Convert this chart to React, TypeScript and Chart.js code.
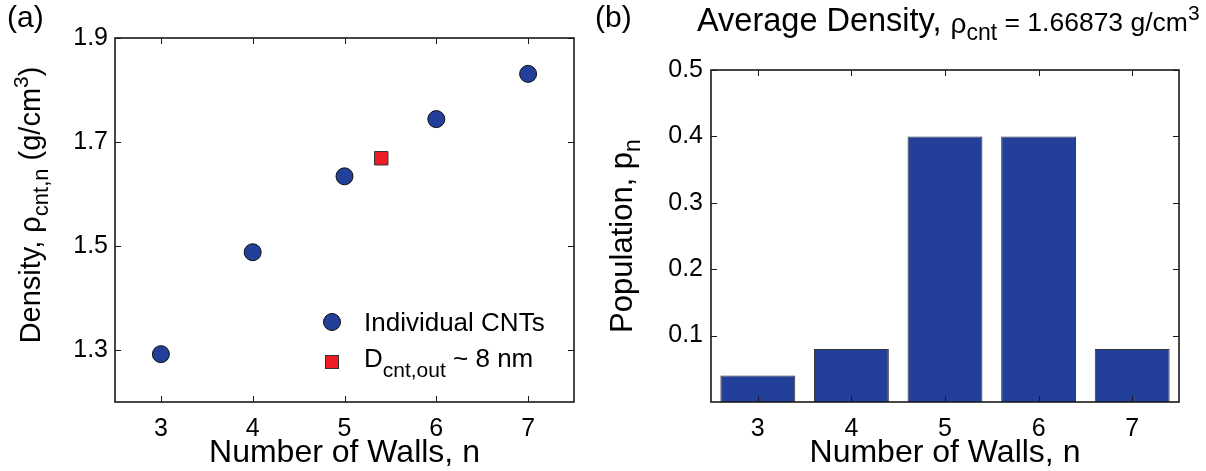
import React, { useEffect, useRef } from "react";
import { Chart, registerables } from "chart.js";

Chart.register(...registerables);

// ---------- data ----------
const WALLS = [3, 4, 5, 6, 7];
const DENSITY = [1.292, 1.488, 1.634, 1.744, 1.831];
const BUNDLE_WALLS = [5.4];
const BUNDLE_DENSITY = [1.6687];
const POPULATION = [0.04, 0.08, 0.4, 0.4, 0.08];
const CATEGORY_LABELS = ["3", "4", "5", "6", "7"];
const LEFT_X_TICKS = [3, 4, 5, 6, 7];
const LEFT_Y_TICKS = [1.3, 1.5, 1.7, 1.9];
const RIGHT_Y_TICKS = [0.1, 0.2, 0.3, 0.4, 0.5];

const LEGEND_LABEL_1 = "Individual CNTs";
const LEGEND_LABEL_2 = ["D", "cnt,out", " ~ 8 nm"];

// ---------- style ----------
const FONT = "'Liberation Sans', Arial, Helvetica, sans-serif";
const BLUE = "#22409a";
const RED = "#ee1c25";
const TICK_FONT = { family: FONT, size: 25 };

type Run = { t: string; size: number; dy?: number };

function runsWidth(ctx: CanvasRenderingContext2D, runs: Run[]) {
  let w = 0;
  for (const r of runs) {
    ctx.font = `${r.size}px ${FONT}`;
    w += ctx.measureText(r.t).width;
  }
  return w;
}

function drawRuns(
  ctx: CanvasRenderingContext2D,
  runs: Run[],
  x: number,
  y: number,
  align: "left" | "center",
  rotate = false
) {
  ctx.save();
  ctx.translate(x, y);
  if (rotate) ctx.rotate(-Math.PI / 2);
  let cx = align === "center" ? -runsWidth(ctx, runs) / 2 : 0;
  ctx.textAlign = "left";
  ctx.textBaseline = "alphabetic";
  ctx.fillStyle = "#000";
  for (const r of runs) {
    ctx.font = `${r.size}px ${FONT}`;
    ctx.fillText(r.t, cx, r.dy || 0);
    cx += ctx.measureText(r.t).width;
  }
  ctx.restore();
}

// box frame with inward ticks on all four sides
const framePlugin = {
  id: "frame",
  afterDatasetsDraw(chart: any) {
    const { ctx, chartArea: a, scales } = chart;
    const L = 6;
    ctx.save();
    ctx.strokeStyle = "#1a1a1a";
    ctx.lineWidth = 1;
    const xs = scales.x;
    xs.ticks.forEach((_t: any, i: number) => {
      const p = Math.round(xs.getPixelForTick(i)) + 0.5;
      ctx.beginPath();
      ctx.moveTo(p, a.bottom);
      ctx.lineTo(p, a.bottom - L);
      ctx.moveTo(p, a.top);
      ctx.lineTo(p, a.top + L);
      ctx.stroke();
    });
    const ys = scales.y;
    ys.ticks.forEach((_t: any, i: number) => {
      const p = Math.round(ys.getPixelForTick(i)) + 0.5;
      ctx.beginPath();
      ctx.moveTo(a.left, p);
      ctx.lineTo(a.left + L, p);
      ctx.moveTo(a.right, p);
      ctx.lineTo(a.right - L, p);
      ctx.stroke();
    });
    ctx.lineWidth = 1.6;
    ctx.strokeRect(a.left, a.top, a.right - a.left, a.bottom - a.top);
    ctx.restore();
  },
};

const leftTextPlugin = {
  id: "leftText",
  afterDraw(chart: any) {
    const { ctx, chartArea: a } = chart;
    const cx = (a.left + a.right) / 2;
    const cy = (a.top + a.bottom) / 2;
    drawRuns(ctx, [{ t: "(a)", size: 30 }], 7, 27, "left");
    drawRuns(ctx, [{ t: "Number of Walls, n", size: 32 }], cx, 462, "center");
    drawRuns(
      ctx,
      [
        { t: "Density, ", size: 29 },
        { t: "ρ", size: 29 },
        { t: "cnt,n", size: 22, dy: 8 },
        { t: " (g/cm", size: 29 },
        { t: "3", size: 21, dy: -12 },
        { t: ")", size: 29 },
      ],
      40,
      cy - 15,
      "center",
      true
    );
    // legend
    ctx.save();
    ctx.fillStyle = BLUE;
    ctx.strokeStyle = "#111";
    ctx.lineWidth = 1;
    ctx.beginPath();
    ctx.arc(332, 322, 8.5, 0, Math.PI * 2);
    ctx.fill();
    ctx.stroke();
    ctx.fillStyle = RED;
    ctx.strokeStyle = "#333";
    ctx.fillRect(325, 355, 14, 14);
    ctx.strokeRect(325.5, 355.5, 13, 13);
    ctx.restore();
    drawRuns(ctx, [{ t: LEGEND_LABEL_1, size: 26 }], 364, 331, "left");
    drawRuns(
      ctx,
      [
        { t: LEGEND_LABEL_2[0], size: 26 },
        { t: LEGEND_LABEL_2[1], size: 21, dy: 10 },
        { t: LEGEND_LABEL_2[2], size: 26 },
      ],
      364,
      367,
      "left"
    );
  },
};

const rightTextPlugin = {
  id: "rightText",
  afterDraw(chart: any) {
    const { ctx, chartArea: a } = chart;
    const cx = (a.left + a.right) / 2;
    const cy = (a.top + a.bottom) / 2;
    drawRuns(ctx, [{ t: "(b)", size: 30 }], 5, 27, "left");
    drawRuns(
      ctx,
      [
        { t: "Average Density, ", size: 32.5 },
        { t: "ρ", size: 28, dy: 2 },
        { t: "cnt", size: 23, dy: 9 },
        { t: " = 1.66873 g/cm", size: 26.5 },
        { t: "3", size: 21, dy: -11 },
      ],
      107,
      31,
      "left"
    );
    drawRuns(ctx, [{ t: "Number of Walls, n", size: 32 }], cx, 462, "center");
    drawRuns(
      ctx,
      [
        { t: "Population, ", size: 31 },
        { t: "p", size: 31 },
        { t: "n", size: 23, dy: 8 },
      ],
      42,
      cy,
      "center",
      true
    );
  },
};

function LeftChart() {
  const ref = useRef<HTMLCanvasElement>(null);
  useEffect(() => {
    const chart = new Chart(ref.current!, {
      type: "scatter",
      data: {
        datasets: [
          {
            label: LEGEND_LABEL_1,
            data: WALLS.map((w, i) => ({ x: w, y: DENSITY[i] })),
            pointRadius: 8.5,
            pointHoverRadius: 8.5,
            pointBackgroundColor: BLUE,
            pointBorderColor: "#111",
            pointBorderWidth: 1,
          },
          {
            label: LEGEND_LABEL_2.join(""),
            data: BUNDLE_WALLS.map((w, i) => ({ x: w, y: BUNDLE_DENSITY[i] })),
            pointStyle: "rect",
            pointRadius: 9.5,
            pointHoverRadius: 9.5,
            pointBackgroundColor: RED,
            pointBorderColor: "#333",
            pointBorderWidth: 1,
          },
        ],
      },
      options: {
        responsive: false,
        animation: false,
        events: [],
        layout: { padding: { left: 0, top: 38, right: 26, bottom: 0 } },
        plugins: { legend: { display: false }, tooltip: { enabled: false } },
        scales: {
          x: {
            type: "linear",
            min: 2.5,
            max: 7.5,
            afterBuildTicks: (s: any) => {
              s.ticks = LEFT_X_TICKS.map((v) => ({ value: v }));
            },
            afterFit: (s: any) => {
              s.height = 69;
            },
            grid: { display: false, drawTicks: false },
            border: { display: false },
            ticks: { font: TICK_FONT, color: "#000", padding: 12, callback: (v: any) => String(v) },
          },
          y: {
            type: "linear",
            min: 1.2,
            max: 1.9,
            afterBuildTicks: (s: any) => {
              s.ticks = LEFT_Y_TICKS.map((v) => ({ value: v }));
            },
            afterFit: (s: any) => {
              s.width = 115;
            },
            grid: { display: false, drawTicks: false },
            border: { display: false },
            ticks: { font: TICK_FONT, color: "#000", padding: 7, callback: (v: any) => Number(v).toFixed(1) },
          },
        },
      },
      plugins: [framePlugin, leftTextPlugin],
    } as any);
    return () => chart.destroy();
  }, []);
  return (
    <canvas
      ref={ref}
      width={600}
      height={471}
      style={{ position: "absolute", left: 0, top: 0, width: 600, height: 471, display: "block" }}
    />
  );
}

function RightChart() {
  const ref = useRef<HTMLCanvasElement>(null);
  useEffect(() => {
    const chart = new Chart(ref.current!, {
      type: "bar",
      data: {
        labels: CATEGORY_LABELS,
        datasets: [
          {
            label: "Population",
            data: POPULATION,
            backgroundColor: BLUE,
            borderColor: "#333",
            borderWidth: 1,
            barPercentage: 0.8,
            categoryPercentage: 1.0,
          },
        ],
      },
      options: {
        responsive: false,
        animation: false,
        events: [],
        layout: { padding: { left: 0, top: 70, right: 27, bottom: 0 } },
        plugins: { legend: { display: false }, tooltip: { enabled: false } },
        scales: {
          x: {
            type: "category",
            afterFit: (s: any) => {
              s.height = 69;
            },
            grid: { display: false, drawTicks: false },
            border: { display: false },
            ticks: { font: TICK_FONT, color: "#000", padding: 12 },
          },
          y: {
            type: "linear",
            min: 0,
            max: 0.5,
            afterBuildTicks: (s: any) => {
              s.ticks = RIGHT_Y_TICKS.map((v) => ({ value: v }));
            },
            afterFit: (s: any) => {
              s.width = 121;
            },
            grid: { display: false, drawTicks: false },
            border: { display: false },
            ticks: { font: TICK_FONT, color: "#000", padding: 8, callback: (v: any) => Number(v).toFixed(1) },
          },
        },
      },
      plugins: [framePlugin, rightTextPlugin],
    } as any);
    return () => chart.destroy();
  }, []);
  return (
    <canvas
      ref={ref}
      width={616}
      height={471}
      style={{ position: "absolute", left: 590, top: 0, width: 616, height: 471, display: "block" }}
    />
  );
}

export default function App() {
  return (
    <div style={{ position: "absolute", left: 0, top: 0, width: 1206, height: 471, background: "#fff" }}>
      <LeftChart />
      <RightChart />
    </div>
  );
}
